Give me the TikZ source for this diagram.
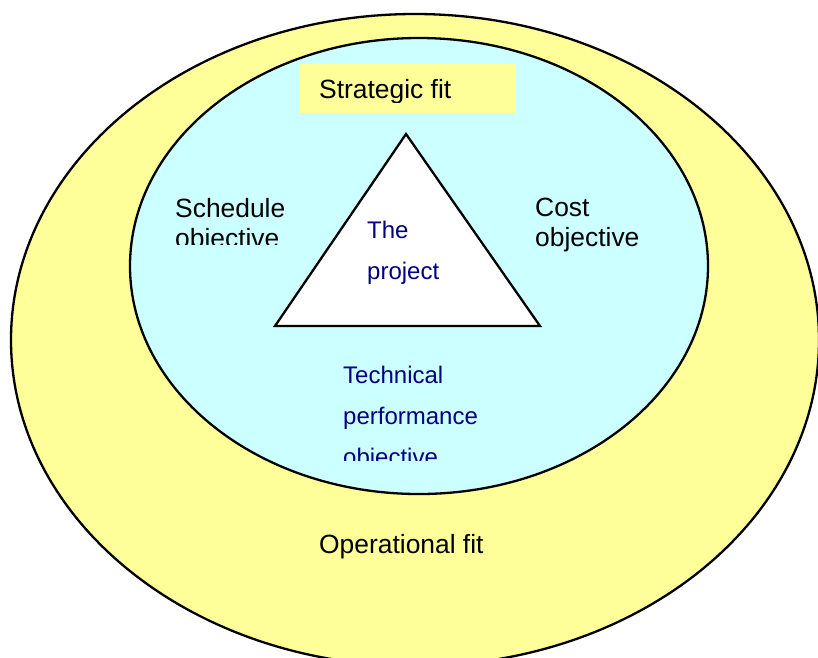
\documentclass[tikz,border=0pt]{standalone}
\usepackage{fontspec}
\setmainfont{Liberation Sans}
\definecolor{fityellow}{HTML}{FFFF99}
\definecolor{fitcyan}{HTML}{CCFFFF}
\definecolor{navytext}{HTML}{000080}
\tikzset{
  outline/.style={draw=black, line width=2.3pt},
  blktext/.style={anchor=base west, inner sep=0pt, text=black, font=\fontsize{26.4}{30}\selectfont},
  blutext/.style={anchor=base west, inner sep=0pt, text=navytext, font=\fontsize{24}{41}\selectfont}
}
\begin{document}
\begin{tikzpicture}[x=1pt,y=-1pt]
\useasboundingbox (0,0) rectangle (818,657);
\clip (0,0) rectangle (818,657);
% outer ellipse: operational fit
\draw[outline, fill=fityellow] (415,340) ellipse [x radius=404, y radius=326];
% inner ellipse: strategic fit
\draw[outline, fill=fitcyan] (419,266) ellipse [x radius=289, y radius=228];
% strategic fit label box
\fill[fityellow] (299,64) rectangle (516,113);
\begin{scope}
  \clip (299,64) rectangle (516,102.5);
  \node[blktext] (strat) at (319,98) {Strategic fit};
\end{scope}
% triangle
\coordinate (apex) at (406,134);
\coordinate (bl) at (275,326);
\coordinate (br) at (540,326);
\draw[outline, fill=white, line join=miter] (apex) -- (bl) -- (br) -- cycle;
% schedule objective (clipped)
\begin{scope}
  \clip (150,180) rectangle (320,244.5);
  \node[blktext] (sched1) at (175,217.5) {Schedule};
  \node[blktext] (sched2) at (175,247.5) {objective};
\end{scope}
% cost objective
\node[blktext] (cost1) at (535,216.5) {Cost};
\node[blktext] (cost2) at (535,246.5) {objective};
% the project
\node[blutext] (proj1) at (367,238.5) {The};
\node[blutext] (proj2) at (367,279.5) {project};
% technical performance objective (clipped)
\begin{scope}
  \clip (320,350) rectangle (500,460.5);
  \node[blutext] (tech1) at (343,383.5) {Technical};
  \node[blutext] (tech2) at (343,424.5) {performance};
  \node[blutext] (tech3) at (343,465.5) {objective};
\end{scope}
% operational fit
\node[blktext] (oper) at (319,553) {Operational fit};
\end{tikzpicture}
\end{document}
